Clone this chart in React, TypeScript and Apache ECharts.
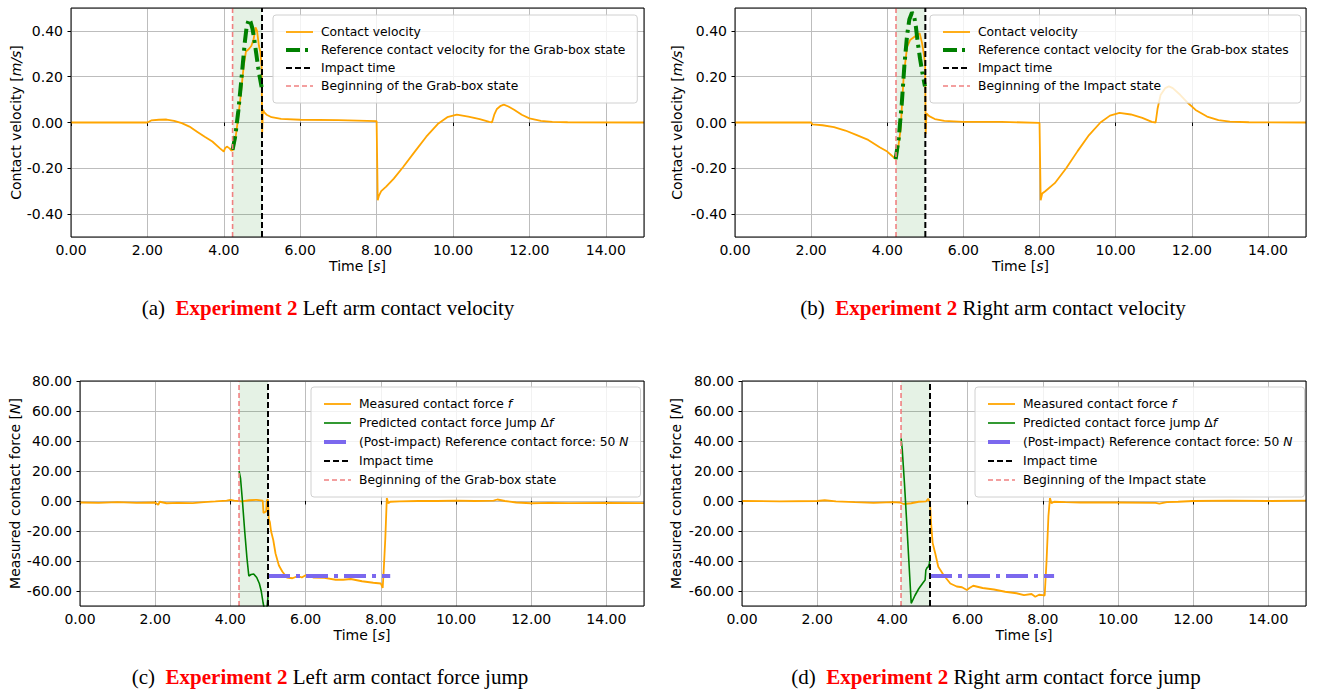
import React, { useEffect, useRef } from 'react';
import * as echarts from 'echarts';

// ---------------- DATA ----------------
const GRAB_START = 4.23;
const IMPACT_TIME = 5.0;

// (a) left arm contact velocity
const VEL_L_T = [0, 2.0, 2.1, 2.3, 2.5, 2.7, 2.9, 3.1, 3.3, 3.5, 3.7, 3.9, 4.0, 4.03, 4.08, 4.15, 4.2, 4.24, 4.3, 4.37, 4.45, 4.52, 4.58, 4.65, 4.72, 4.78, 4.83, 4.87, 4.92, 4.96, 4.99, 5.005, 5.025, 5.06, 5.12, 5.25, 5.5, 6.0, 7.0, 8.0, 8.03, 8.06, 8.12, 8.25, 8.45, 8.7, 9.0, 9.3, 9.6, 9.85, 10.1, 10.4, 10.7, 10.95, 11.02, 11.08, 11.15, 11.25, 11.33, 11.45, 11.6, 11.8, 12.0, 12.3, 12.6, 13.0, 15.0];
const VEL_L_V = [0, 0, 0.009, 0.012, 0.013, 0.007, -0.003, -0.018, -0.04, -0.062, -0.083, -0.113, -0.127, -0.113, -0.105, -0.113, -0.123, -0.12, -0.076, 0.012, 0.13, 0.246, 0.31, 0.32, 0.334, 0.363, 0.415, 0.4, 0.334, 0.305, 0.24, -0.045, 0.056, 0.044, 0.034, 0.023, 0.016, 0.012, 0.01, 0.006, -0.34, -0.32, -0.3, -0.28, -0.245, -0.193, -0.127, -0.062, -0.007, 0.023, 0.034, 0.026, 0.015, 0.003, 0, 0.034, 0.059, 0.073, 0.078, 0.07, 0.056, 0.034, 0.018, 0.007, 0.003, 0.001, 0];
const REF_L_T = [4.23, 4.3, 4.38, 4.45, 4.5, 4.55, 4.6, 4.66, 4.7, 4.75, 4.8, 4.85, 4.9, 4.95, 4.99];
const REF_L_V = [-0.12, -0.06, 0.05, 0.17, 0.26, 0.35, 0.42, 0.452, 0.44, 0.41, 0.36, 0.3, 0.24, 0.19, 0.155];

// (b) right arm contact velocity
const VEL_R_T = [0, 2.0, 2.03, 2.3, 2.6, 2.9, 3.2, 3.5, 3.8, 4.0, 4.1, 4.22, 4.28, 4.35, 4.43, 4.52, 4.6, 4.68, 4.76, 4.85, 4.91, 4.97, 4.995, 5.01, 5.03, 5.1, 5.25, 5.5, 6.0, 7.0, 8.0, 8.03, 8.07, 8.15, 8.4, 8.7, 9.0, 9.3, 9.6, 9.85, 10.1, 10.4, 10.7, 10.95, 11.05, 11.1, 11.18, 11.3, 11.4, 11.5, 11.7, 11.9, 12.1, 12.4, 12.7, 13.0, 13.5, 15.0];
const VEL_R_V = [0, 0, -0.008, -0.012, -0.02, -0.035, -0.055, -0.076, -0.108, -0.127, -0.142, -0.16, -0.12, -0.03, 0.2, 0.33, 0.36, 0.37, 0.38, 0.39, 0.35, 0.29, 0.25, -0.05, 0.04, 0.028, 0.015, 0.007, 0.003, 0.003, -0.002, -0.34, -0.31, -0.3, -0.265, -0.2, -0.125, -0.055, 0.0, 0.03, 0.042, 0.035, 0.02, 0.003, 0.0, 0.06, 0.12, 0.15, 0.158, 0.15, 0.12, 0.085, 0.055, 0.026, 0.01, 0.004, 0.001, 0];
const REF_R_T = [4.22, 4.3, 4.38, 4.45, 4.52, 4.58, 4.65, 4.7, 4.75, 4.8, 4.86, 4.92, 4.99];
const REF_R_V = [-0.16, -0.07, 0.08, 0.25, 0.38, 0.45, 0.48, 0.47, 0.42, 0.35, 0.28, 0.22, 0.158];

// (c) left arm contact force
const FORCE_L_T = [0, 0.5, 1.0, 1.5, 2.0, 2.08, 2.12, 2.3, 2.6, 3.0, 3.3, 3.6, 3.9, 4.0, 4.1, 4.3, 4.5, 4.7, 4.86, 4.88, 4.95, 4.97, 5.0, 5.02, 5.05, 5.08, 5.14, 5.2, 5.29, 5.38, 5.5, 5.65, 5.8, 5.9, 6.0, 6.2, 6.5, 6.8, 7.0, 7.2, 7.5, 7.8, 8.0, 8.05, 8.08, 8.12, 8.16, 8.2, 8.25, 8.5, 9.0, 9.5, 10.0, 10.5, 11.0, 11.1, 11.3, 11.6, 12.0, 12.5, 13.0, 14.0, 15.0];
const FORCE_L_V = [-1, -1.2, -0.8, -1.3, -1.0, -2.5, -0.5, -1.5, -1.2, -1.4, -0.8, -0.3, 0.3, 0.8, 0.2, -0.2, 0.5, 0.8, 0.2, -8, -7, 0.5, 1.0, -12, -14, -20, -26, -35, -43, -47, -51, -51.5, -50, -51, -49.5, -51, -51.2, -52.5, -52.5, -52, -53.5, -54.5, -55, -58, -45, -25, 2, -1.5, -0.5, -0.3, 0, 0, 0.2, 0, 0.3, 1.0, 0, -1.0, -1.5, -1.2, -1.4, -1.3, -1.4];
const JUMP_L_T = [4.23, 4.27, 4.32, 4.38, 4.44, 4.49, 4.55, 4.62, 4.7, 4.77, 4.82, 4.87, 4.92, 4.96, 5.0];
const JUMP_L_V = [20, 15, 0, -20, -38, -50, -49, -48.7, -51, -55, -60, -68, -74, -74, -64];
const REF_FORCE_L_T = [5.0, 8.25];
const REF_FORCE_L_V = [-50, -50];

// (d) right arm contact force
const FORCE_R_T = [0, 1.0, 2.0, 2.2, 2.5, 3.0, 3.5, 4.0, 4.2, 4.3, 4.5, 4.7, 4.9, 4.95, 5.0, 5.03, 5.07, 5.14, 5.22, 5.36, 5.54, 5.71, 5.85, 5.98, 6.05, 6.15, 6.4, 6.7, 7.0, 7.3, 7.5, 7.7, 7.8, 7.9, 8.0, 8.05, 8.1, 8.15, 8.19, 8.23, 8.3, 8.6, 9.0, 10.0, 11.0, 11.1, 11.3, 11.6, 12.0, 13.0, 14.0, 15.0];
const FORCE_R_V = [0, -0.2, 0, 0.5, -0.2, -0.8, -1.2, -0.8, -1.0, -2, -1.5, -0.5, -0.2, 1.5, -1, -15, -28, -35, -43.8, -49.3, -55, -57, -57.5, -59.3, -58, -56.5, -58, -59, -60.5, -61.5, -62.7, -62, -63.8, -62.5, -62.7, -63, -40, -10, 2, -1.5, -0.5, -0.8, -1, -1, -1.2, -1.8, -0.8, -0.5, 0, 0.2, 0, 0.2];
const JUMP_R_T = [4.23, 4.26, 4.32, 4.38, 4.44, 4.5, 4.6, 4.7, 4.8, 4.87, 4.89, 4.92, 4.95, 4.98, 5.0];
const JUMP_R_V = [41.8, 35, 12, -14, -41, -68.2, -63, -58.5, -55, -52.7, -46, -44.5, -44, -42, -39];
const REF_FORCE_R_T = [5.0, 8.3];
const REF_FORCE_R_V = [-50, -50];

const X_MIN = 0;
const X_MAX = 15;
const X_STEP = 2;
const VEL_RANGE = [-0.5, 0.5];
const FORCE_RANGE = [-70, 80];

const CAPTIONS = [
  ['(a)', 'Left arm contact velocity'],
  ['(b)', 'Right arm contact velocity'],
  ['(c)', 'Left arm contact force jump'],
  ['(d)', 'Right arm contact force jump'],
];

// ---------------- STYLE ----------------
const FONT = "'DejaVu Sans', sans-serif";
const SERIF = "'Liberation Serif', 'Times New Roman', serif";
const ORANGE = '#FFA500';
const GREEN = '#008000';
const PURPLE = '#7B68EE';
const PINK = '#F08080';
const BLACK = '#000000';
const GRIDLINE = '#bdbdbd';
const LEGEND_FONT = 12.3;

const zip = (t: number[], v: number[]) => t.map((x, i) => [x, v[i]]);

const LAYOUTS = [
  { left: 71, top: 8, width: 573, height: 229 },
  { left: 735, top: 8, width: 571, height: 229 },
  { left: 80, top: 381, width: 564, height: 225 },
  { left: 742, top: 381, width: 564, height: 225 },
];
const CAPTION_POS = [
  [328, 308],
  [993, 308],
  [330, 677],
  [996, 677],
];

const LEGEND_RICH: Record<string, string> = {
  'Measured contact force f': '{s|Measured contact force }{i|f}',
  'Predicted contact force Jump Δf': '{s|Predicted contact force Jump Δ}{i|f}',
  'Predicted contact force jump Δf': '{s|Predicted contact force jump Δ}{i|f}',
  '(Post-impact) Reference contact force: 50 N': '{s|(Post-impact) Reference contact force: 50 }{i|N}',
};

function line(name: string, data: number[][], gi: number, color: string, width: number, type: any, z: number, extra: any = {}) {
  return {
    type: 'line',
    name,
    data,
    xAxisIndex: gi,
    yAxisIndex: gi,
    symbol: 'none',
    showSymbol: false,
    z,
    lineStyle: { color, width, type },
    itemStyle: { color },
    emphasis: { disabled: true },
    ...extra,
  };
}

function buildOption() {
  const series: any[] = [];
  const shade = {
    markArea: {
      silent: true,
      itemStyle: { color: 'rgba(0,128,0,0.1)' },
      data: [[{ xAxis: GRAB_START }, { xAxis: IMPACT_TIME }]],
    },
  };
  const vlines = (gi: number, range: number[], beginName: string) => {
    series.push(line('Impact time', [[IMPACT_TIME, range[0]], [IMPACT_TIME, range[1]]], gi, BLACK, 2, [6, 3], 5));
    series.push(line(beginName, [[GRAB_START, range[0]], [GRAB_START, range[1]]], gi, PINK, 1.6, [5, 3], 5));
  };

  // (a)
  series.push(line('Contact velocity', zip(VEL_L_T, VEL_L_V), 0, ORANGE, 1.8, 'solid', 2, shade));
  series.push(line('Reference contact velocity for the Grab-box state', zip(REF_L_T, REF_L_V), 0, GREEN, 4, [14, 5, 3, 5], 3));
  vlines(0, VEL_RANGE, 'Beginning of the Grab-box state');
  // (b)
  series.push(line('Contact velocity', zip(VEL_R_T, VEL_R_V), 1, ORANGE, 1.8, 'solid', 2, shade));
  series.push(line('Reference contact velocity for the Grab-box states', zip(REF_R_T, REF_R_V), 1, GREEN, 4, [14, 5, 3, 5], 3));
  vlines(1, VEL_RANGE, 'Beginning of the Impact state');
  // (c)
  series.push(line('Measured contact force f', zip(FORCE_L_T, FORCE_L_V), 2, ORANGE, 1.8, 'solid', 2, shade));
  series.push(line('Predicted contact force Jump Δf', zip(JUMP_L_T, JUMP_L_V), 2, GREEN, 1.6, 'solid', 3));
  series.push(line('(Post-impact) Reference contact force: 50 N', zip(REF_FORCE_L_T, REF_FORCE_L_V), 2, PURPLE, 4, [22, 6, 4, 6], 3));
  vlines(2, FORCE_RANGE, 'Beginning of the Grab-box state');
  // (d)
  series.push(line('Measured contact force f', zip(FORCE_R_T, FORCE_R_V), 3, ORANGE, 1.8, 'solid', 2, shade));
  series.push(line('Predicted contact force jump Δf', zip(JUMP_R_T, JUMP_R_V), 3, GREEN, 1.6, 'solid', 3));
  series.push(line('(Post-impact) Reference contact force: 50 N', zip(REF_FORCE_R_T, REF_FORCE_R_V), 3, PURPLE, 4, [22, 6, 4, 6], 3));
  vlines(3, FORCE_RANGE, 'Beginning of the Impact state');

  const legendNames = [
    ['Contact velocity', 'Reference contact velocity for the Grab-box state', 'Impact time', 'Beginning of the Grab-box state'],
    ['Contact velocity', 'Reference contact velocity for the Grab-box states', 'Impact time', 'Beginning of the Impact state'],
    ['Measured contact force f', 'Predicted contact force Jump Δf', '(Post-impact) Reference contact force: 50 N', 'Impact time', 'Beginning of the Grab-box state'],
    ['Measured contact force f', 'Predicted contact force jump Δf', '(Post-impact) Reference contact force: 50 N', 'Impact time', 'Beginning of the Impact state'],
  ];
  const legendPos = [
    { left: 273, top: 15, gap: 4 },
    { left: 930, top: 15, gap: 4 },
    { left: 311, top: 387, gap: 5 },
    { left: 975, top: 387, gap: 5 },
  ];
  const richLegend = {
    s: { fontFamily: FONT, fontSize: LEGEND_FONT, color: '#000', lineHeight: 14, padding: [0, 0, 0, 3] },
    i: { fontFamily: FONT, fontSize: LEGEND_FONT, color: '#000', lineHeight: 14, fontStyle: 'italic' },
  };
  const legend = legendNames.map((names, k) => ({
    orient: 'vertical',
    left: legendPos[k].left,
    top: legendPos[k].top,
    data: names,
    itemWidth: 27,
    itemHeight: 14,
    itemGap: legendPos[k].gap,
    padding: [10, 12, 10, 11],
    backgroundColor: 'rgba(255,255,255,0.8)',
    borderColor: '#d0d0d0',
    borderWidth: 1,
    borderRadius: 3,
    selectedMode: false,
    itemStyle: { color: 'rgba(0,0,0,0)', borderWidth: 0, opacity: 0 },
    lineStyle: { width: 'inherit', type: 'inherit', color: 'inherit' },
    textStyle: { fontFamily: FONT, fontSize: LEGEND_FONT, color: '#000', lineHeight: 14, rich: richLegend },
    formatter: (name: string) => LEGEND_RICH[name] || `{s|${name}}`,
  }));

  const fmt = (v: number) => v.toFixed(2);
  const nameStyle = {
    fontFamily: FONT,
    fontSize: 14,
    color: '#000',
    rich: { i: { fontFamily: FONT, fontSize: 14, color: '#000', fontStyle: 'italic' } },
  };
  const xAxis = LAYOUTS.map((_, gi) => ({
    type: 'value',
    gridIndex: gi,
    min: X_MIN,
    max: X_MAX,
    interval: X_STEP,
    name: 'Time [{i|s}]',
    nameLocation: 'middle',
    nameGap: 22,
    nameTextStyle: nameStyle,
    axisLine: { show: false },
    axisTick: { show: true, length: 3.5, lineStyle: { color: '#000', width: 1 } },
    axisLabel: { formatter: fmt, fontFamily: FONT, fontSize: 14, color: '#000', margin: 6, showMaxLabel: false },
    splitLine: { show: true, lineStyle: { color: GRIDLINE, width: 1 } },
  }));
  const yGap = [47, 51, 58, 59];
  const yAxis = LAYOUTS.map((_, gi) => {
    const vel = gi < 2;
    const range = vel ? VEL_RANGE : FORCE_RANGE;
    return {
      type: 'value',
      gridIndex: gi,
      min: range[0],
      max: range[1],
      splitNumber: vel ? 5 : 7,
      name: vel ? 'Contact velocity [{i|m/s}]' : 'Measured contact force [{i|N}]',
      nameLocation: 'middle',
      nameRotate: 90,
      nameGap: yGap[gi],
      nameTextStyle: nameStyle,
      axisLine: { show: false },
      axisTick: { show: true, length: 3.5, lineStyle: { color: '#000', width: 1 } },
      axisLabel: {
        formatter: fmt,
        fontFamily: FONT,
        fontSize: 14,
        color: '#000',
        margin: 8,
        showMinLabel: false,
        showMaxLabel: vel ? false : true,
      },
      splitLine: { show: true, lineStyle: { color: GRIDLINE, width: 1 } },
    };
  });

  const graphic: any[] = [];
  LAYOUTS.forEach((g) => {
    graphic.push({
      type: 'rect',
      z: 100,
      silent: true,
      shape: { x: g.left, y: g.top, width: g.width, height: g.height },
      style: { fill: 'none', stroke: '#000', lineWidth: 1 },
    });
  });
  CAPTIONS.forEach((c, k) => {
    graphic.push({
      type: 'text',
      x: CAPTION_POS[k][0],
      y: CAPTION_POS[k][1],
      z: 100,
      silent: true,
      style: {
        text: `{p|${c[0]}  }{r|Experiment 2}{p| ${c[1]}}`,
        rich: {
          p: { fontFamily: SERIF, fontSize: 21, fill: '#000' },
          r: { fontFamily: SERIF, fontSize: 21, fontWeight: 'bold', fill: '#ff0000' },
        },
        align: 'center',
        verticalAlign: 'middle',
        textAlign: 'center',
        textVerticalAlign: 'middle',
      },
    });
  });

  return {
    animation: false,
    backgroundColor: '#ffffff',
    grid: LAYOUTS.map((g) => ({ ...g, show: false, containLabel: false })),
    xAxis,
    yAxis,
    legend,
    series,
    graphic,
  };
}

export default function App() {
  const ref = useRef<HTMLDivElement>(null);
  useEffect(() => {
    if (!ref.current) return;
    const chart = echarts.init(ref.current, undefined, { renderer: 'svg', width: 1322, height: 691 });
    chart.setOption(buildOption() as any);
    return () => chart.dispose();
  }, []);
  return (
    <div
      ref={ref}
      style={{ position: 'fixed', left: 0, top: 0, width: 1322, height: 691, background: '#ffffff' }}
    />
  );
}
